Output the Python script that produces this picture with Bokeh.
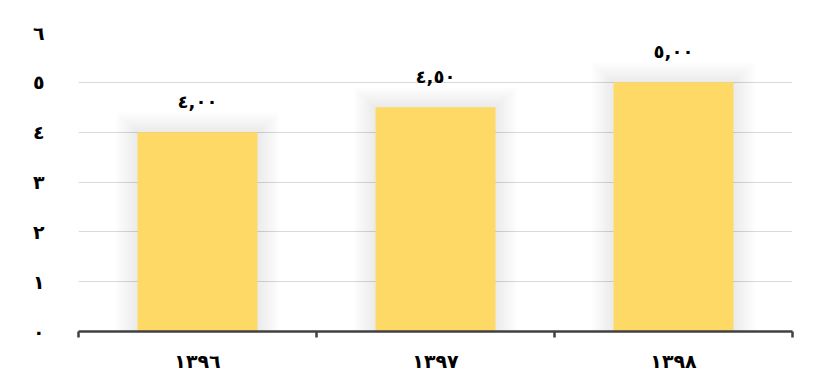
from bokeh.plotting import figure
from bokeh.models import ColumnDataSource, Range1d, FixedTicker
from bokeh.core.properties import value
from bokeh.embed import file_html
from bokeh.resources import INLINE

years = ["١٣٩٦", "١٣٩٧", "١٣٩٨"]
values = [4.0, 4.5, 5.0]
value_labels = ["٤,٠٠", "٤,٥٠", "٥,٠٠"]
y_ticks = [0, 1, 2, 3, 4, 5, 6]
y_tick_labels = ["٠", "١", "٢", "٣", "٤", "٥", "٦"]

FONT = "DejaVu Sans"
BAR_COLOR = "#FFD966"
BAR_WIDTH = 0.504

pos = [i + 0.5 for i in range(len(years))]

p = figure(width=822, height=372, output_backend="svg", toolbar_location=None,
           x_range=Range1d(0, len(years)), y_range=Range1d(0, 6),
           min_border_left=78, min_border_right=30, min_border_top=32, min_border_bottom=10)
p.frame_width = 714
p.frame_height = 299
p.outline_line_color = None
p.background_fill_color = "white"
p.border_fill_color = "white"

# soft glow around bars
src = ColumnDataSource(dict(x=pos, top=values, label=value_labels))
for k in range(10, 0, -1):
    glow = ColumnDataSource(dict(x=pos, top=[v + k * 0.04 for v in values]))
    p.vbar(x="x", top="top", bottom=0, width=BAR_WIDTH + k * 2 * 2.2 / 238, source=glow,
           fill_color="black", fill_alpha=0.009, line_color=None)

p.vbar(x="x", top="top", bottom=0, width=BAR_WIDTH, source=src,
       fill_color=BAR_COLOR, line_color=None)

p.text(x="x", y="top", text="label", source=src, y_offset=-31,
       text_align="center", text_baseline="middle",
       text_font=value(FONT), text_font_style="bold", text_font_size="18px", text_color="black")

# grid
p.xgrid.visible = False
p.ygrid.ticker = FixedTicker(ticks=y_ticks[1:])
p.ygrid.grid_line_color = "#d9d9d9"
p.ygrid.grid_line_width = 1

# y axis
ya = p.yaxis[0]
ya.ticker = FixedTicker(ticks=y_ticks)
ya.major_label_overrides = {t: l for t, l in zip(y_ticks, y_tick_labels)}
ya.axis_line_color = None
ya.major_tick_line_color = None
ya.minor_tick_line_color = None
ya.major_label_standoff = 28
ya.major_label_text_font = FONT
ya.major_label_text_font_style = "bold"
ya.major_label_text_font_size = "19px"
ya.major_label_text_color = "black"

# x axis
xa = p.xaxis[0]
xa.ticker = FixedTicker(ticks=pos, minor_ticks=list(range(len(years) + 1)))
xa.major_label_overrides = {x: l for x, l in zip(pos, years)}
xa.axis_line_color = "#404040"
xa.axis_line_width = 2.5
xa.major_tick_line_color = None
xa.major_tick_out = 6
xa.minor_tick_line_color = "#404040"
xa.minor_tick_line_width = 2.5
xa.minor_tick_out = 6
xa.minor_tick_in = 0
xa.major_label_standoff = 12
xa.major_label_text_font = FONT
xa.major_label_text_font_style = "bold"
xa.major_label_text_font_size = "19px"
xa.major_label_text_color = "black"

open("out.html", "w").write(file_html(p, INLINE))
